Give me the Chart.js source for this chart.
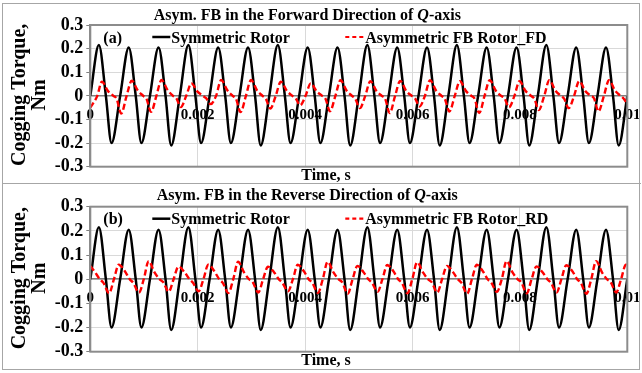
<!DOCTYPE html>
<html>
<head>
<meta charset="utf-8">
<script src="https://cdn.jsdelivr.net/npm/chart.js@4.4.1/dist/chart.umd.min.js"></script>
<style>
  html, body { margin: 0; padding: 0; background: #fff; }
  body { width: 642px; height: 373px; position: relative; overflow: hidden; }
  .frame { position: absolute; left: 2px; top: 3px; width: 636px; height: 365px; border: 1.5px solid #a6a6a6; }
  .split { position: absolute; left: 2px; top: 182.5px; width: 639px; height: 0; border-top: 1.5px solid #a6a6a6; }
  canvas { position: absolute; }
  #chartA { left: 4px; top: 5px; }
  #chartB { left: 4px; top: 185px; }
</style>
</head>
<body>
<div class="frame"></div>
<div class="split"></div>
<canvas id="chartA" width="635" height="177"></canvas>
<canvas id="chartB" width="635" height="183"></canvas>
<script>
// time in ms, torque in Nm
const symTimeMs = [
  0, 0.160, 0.290, 0.395,  0.556, 0.716, 0.846, 0.951,  1.111, 1.271, 1.401, 1.506,
  1.667, 1.827, 1.957, 2.062,  2.222, 2.382, 2.512, 2.617,  2.778, 2.938, 3.068, 3.173,
  3.333, 3.493, 3.623, 3.728,  3.889, 4.049, 4.179, 4.284,  4.444, 4.604, 4.734, 4.839,
  5.000, 5.160, 5.290, 5.395,  5.556, 5.716, 5.846, 5.951,  6.111, 6.271, 6.401, 6.506,
  6.667, 6.827, 6.957, 7.062,  7.222, 7.382, 7.512, 7.617,  7.778, 7.938, 8.068, 8.173,
  8.333, 8.493, 8.623, 8.728,  8.889, 9.049, 9.179, 9.284,  9.444, 9.604, 9.734, 9.839,
  10.000
];
const symTorque = [
  0, 0.215, 0, -0.200,  0, 0.205, 0, -0.200,  0, 0.205, 0, -0.210,
  0, 0.215, 0, -0.200,  0, 0.205, 0, -0.200,  0, 0.205, 0, -0.210,
  0, 0.215, 0, -0.200,  0, 0.205, 0, -0.200,  0, 0.205, 0, -0.210,
  0, 0.215, 0, -0.200,  0, 0.205, 0, -0.200,  0, 0.205, 0, -0.210,
  0, 0.215, 0, -0.200,  0, 0.205, 0, -0.200,  0, 0.205, 0, -0.210,
  0, 0.215, 0, -0.200,  0, 0.205, 0, -0.200,  0, 0.205, 0, -0.210,
  0
];

const fdTimeMs = [
  0, 0.130, 0.215, 0.330, 0.430, 0.490,
  0.576, 0.676, 0.771, 0.886, 0.986, 1.046,
  1.131, 1.231, 1.326, 1.441, 1.541, 1.601,
  1.687, 1.787, 1.882, 1.997, 2.097, 2.157,
  2.242, 2.342, 2.437, 2.552, 2.652, 2.712,
  2.798, 2.898, 2.993, 3.108, 3.208, 3.268,
  3.353, 3.453, 3.548, 3.663, 3.763, 3.823,
  3.909, 4.009, 4.104, 4.219, 4.319, 4.379,
  4.464, 4.564, 4.659, 4.774, 4.874, 4.934,
  5.020, 5.120, 5.215, 5.330, 5.430, 5.490,
  5.576, 5.676, 5.771, 5.886, 5.986, 6.046,
  6.131, 6.231, 6.326, 6.441, 6.541, 6.601,
  6.687, 6.787, 6.882, 6.997, 7.097, 7.157,
  7.242, 7.342, 7.437, 7.552, 7.652, 7.712,
  7.798, 7.898, 7.993, 8.108, 8.208, 8.268,
  8.353, 8.453, 8.548, 8.663, 8.763, 8.823,
  8.909, 9.009, 9.104, 9.219, 9.319, 9.379,
  9.464, 9.564, 9.659, 9.774, 9.874, 9.934,
  10.000
];
const fdTorque = [
  -0.050, 0, 0.060, 0.020, 0, -0.012,
  -0.075, 0, 0.064, 0.022, 0, -0.012,
  -0.068, 0, 0.067, 0.024, 0, -0.010,
  -0.047, 0, 0.053, 0.018, 0, -0.010,
  -0.035, 0, 0.067, 0.024, 0, -0.012,
  -0.069, 0, 0.067, 0.022, 0, -0.012,
  -0.054, 0, 0.060, 0.020, 0, -0.010,
  -0.040, 0, 0.053, 0.018, 0, -0.012,
  -0.065, 0, 0.066, 0.022, 0, -0.012,
  -0.052, 0, 0.062, 0.020, 0, -0.012,
  -0.073, 0, 0.063, 0.020, 0, -0.010,
  -0.045, 0, 0.066, 0.022, 0, -0.012,
  -0.066, 0, 0.062, 0.020, 0, -0.012,
  -0.073, 0, 0.066, 0.022, 0, -0.010,
  -0.048, 0, 0.062, 0.020, 0, -0.012,
  -0.060, 0, 0.066, 0.022, 0, -0.012,
  -0.052, 0, 0.062, 0.020, 0, -0.010,
  -0.066, 0, 0.066, 0.022, 0, -0.012,
  -0.035
];

const rdTimeMs = [
  0,
  0.085, 0.178, 0.245, 0.350, 0.440, 0.530,
  0.641, 0.734, 0.801, 0.906, 0.996, 1.086,
  1.196, 1.289, 1.356, 1.461, 1.551, 1.641,
  1.752, 1.845, 1.912, 2.017, 2.107, 2.197,
  2.307, 2.400, 2.467, 2.572, 2.662, 2.752,
  2.863, 2.956, 3.023, 3.128, 3.218, 3.308,
  3.418, 3.511, 3.578, 3.683, 3.773, 3.863,
  3.974, 4.067, 4.134, 4.239, 4.329, 4.419,
  4.529, 4.622, 4.689, 4.794, 4.884, 4.974,
  5.085, 5.178, 5.245, 5.350, 5.440, 5.530,
  5.641, 5.734, 5.801, 5.906, 5.996, 6.086,
  6.196, 6.289, 6.356, 6.461, 6.551, 6.641,
  6.752, 6.845, 6.912, 7.017, 7.107, 7.197,
  7.307, 7.400, 7.467, 7.572, 7.662, 7.752,
  7.863, 7.956, 8.023, 8.128, 8.218, 8.308,
  8.418, 8.511, 8.578, 8.683, 8.773, 8.863,
  8.974, 9.067, 9.134, 9.239, 9.329, 9.419,
  9.529, 9.622, 9.689, 9.794, 9.884, 9.974,
  10.000
];
const rdTorque = [
  0.055,
  0.030, 0, -0.015, -0.058, 0, 0.060,
  0.034, 0, -0.015, -0.055, 0, 0.075,
  0.028, 0, -0.012, -0.052, 0, 0.052,
  0.030, 0, -0.015, -0.050, 0, 0.060,
  0.034, 0, -0.015, -0.057, 0, 0.072,
  0.028, 0, -0.012, -0.055, 0, 0.052,
  0.030, 0, -0.015, -0.050, 0, 0.060,
  0.034, 0, -0.015, -0.056, 0, 0.072,
  0.028, 0, -0.012, -0.060, 0, 0.055,
  0.030, 0, -0.015, -0.052, 0, 0.059,
  0.034, 0, -0.015, -0.058, 0, 0.070,
  0.028, 0, -0.012, -0.055, 0, 0.055,
  0.030, 0, -0.015, -0.060, 0, 0.060,
  0.034, 0, -0.015, -0.052, 0, 0.075,
  0.028, 0, -0.012, -0.058, 0, 0.053,
  0.030, 0, -0.015, -0.055, 0, 0.058,
  0.034, 0, -0.015, -0.060, 0, 0.075,
  0.028, 0, -0.012, -0.055, 0, 0.060,
  0.058
];

const xTickLabels = ['0', '0.002', '0.004', '0.006', '0.008', '0.01'];
const yTickLabels = ['-0.3', '-0.2', '-0.1', '0', '0.1', '0.2', '0.3'];

const serif = '"Liberation Serif", "Times New Roman", serif';

function toPoints(times, values) {
  return times.map((t, i) => ({ x: t / 1000, y: values[i] }));
}

function makeChart(canvasId, panel) {
  const ctx = document.getElementById(canvasId).getContext('2d');
  return new Chart(ctx, {
    type: 'line',
    data: {
      datasets: [
        {
          label: panel.redLabel,
          data: toPoints(panel.redTime, panel.redTorque),
          borderColor: '#ff0000',
          borderWidth: 2.4,
          borderDash: [6, 3],
          pointRadius: 0,
          cubicInterpolationMode: 'monotone',
          order: 0
        },
        {
          label: 'Symmetric Rotor',
          data: toPoints(symTimeMs, symTorque),
          borderColor: '#000000',
          borderWidth: 2.5,
          pointRadius: 0,
          cubicInterpolationMode: 'monotone',
          order: 1
        }
      ]
    },
    options: {
      responsive: false,
      animation: false,
      devicePixelRatio: 1,
      layout: { padding: panel.padding },
      plugins: {
        legend: { display: false },
        title: { display: false },
        tooltip: { enabled: false }
      },
      scales: {
        x: {
          type: 'linear',
          position: { y: 0 },
          min: 0,
          max: 0.01,
          ticks: {
            stepSize: 0.002,
            autoSkip: false,
            maxRotation: 0,
            padding: 10,
            color: '#000',
            font: { family: serif, size: 15, weight: 'bold' },
            callback: (value, index) => xTickLabels[index]
          },
          grid: { color: '#d9d9d9', lineWidth: 1, drawTicks: false },
          border: { display: true, color: '#7f7f7f', width: 1.5 },
          afterFit: (scale) => { scale.paddingLeft = 0; scale.paddingRight = 0; }
        },
        y: {
          min: -0.3,
          max: 0.3,
          ticks: {
            stepSize: 0.1,
            autoSkip: false,
            padding: 3,
            color: '#000',
            font: { family: serif, size: 18, weight: 'bold' },
            callback: (value, index) => yTickLabels[index]
          },
          grid: { color: '#d9d9d9', lineWidth: 1, tickLength: 4, tickColor: '#7f7f7f' },
          border: { display: true, color: '#8c8c8c', width: 2 },
          afterFit: (scale) => { scale.width = 86.3; scale.paddingTop = 0; scale.paddingBottom = 0; }
        }
      }
    },
    plugins: [{
      afterDraw: function(chart) {
        const c = chart.ctx;
        const a = chart.chartArea;
        c.save();

        // plot frame
        c.strokeStyle = '#8c8c8c';
        c.lineWidth = 2;
        c.strokeRect(a.left, a.top, a.right - a.left, a.bottom - a.top);

        c.fillStyle = '#000';
        c.textBaseline = 'alphabetic';

        // title with italic Q
        const bold = 'bold 16px ' + serif;
        const boldItalic = 'italic bold 16px ' + serif;
        const parts = [[panel.title, bold], ['Q', boldItalic], ['-axis', bold]];
        let total = 0;
        parts.forEach(p => { c.font = p[1]; total += c.measureText(p[0]).width; });
        let x = a.left + 217 - total / 2;
        c.textAlign = 'left';
        parts.forEach(p => {
          c.font = p[1];
          c.fillText(p[0], x, 15);
          x += c.measureText(p[0]).width;
        });

        // panel letter and legend
        const legendY = a.top + 17.5;
        c.font = bold;
        c.fillText(panel.letter, a.left + 13, legendY);

        c.beginPath();
        c.strokeStyle = '#000';
        c.lineWidth = 2.5;
        c.moveTo(a.left + 62, legendY - 5.5);
        c.lineTo(a.left + 80, legendY - 5.5);
        c.stroke();
        c.fillText('Symmetric Rotor', a.left + 81, legendY);

        c.beginPath();
        c.strokeStyle = '#ff0000';
        c.lineWidth = 2.2;
        c.setLineDash([4, 3]);
        c.moveTo(a.left + 255, legendY - 5.5);
        c.lineTo(a.left + 274, legendY - 5.5);
        c.stroke();
        c.setLineDash([]);
        c.fillText(panel.redLabel, a.left + 275, legendY);

        // x axis title
        c.textAlign = 'center';
        c.fillText('Time, s', a.left + 235.7, a.bottom + 13.5);

        // y axis title, two lines
        const midY = (a.top + a.bottom) / 2 - 1;
        c.font = 'bold 20px ' + serif;
        c.translate(21, midY);
        c.rotate(-Math.PI / 2);
        c.fillText('Cogging Torque,', 0, 0);
        c.fillText('Nm', 0, 20);
        c.restore();
      }
    }]
  });
}

makeChart('chartA', {
  letter: '(a)',
  title: 'Asym. FB in the Forward Direction of ',
  redLabel: 'Asymmetric FB Rotor_FD',
  redTime: fdTimeMs,
  redTorque: fdTorque,
  padding: { left: 0, top: 20, right: 11.7, bottom: 15.3 }
});

makeChart('chartB', {
  letter: '(b)',
  title: 'Asym. FB in the Reverse Direction of ',
  redLabel: 'Asymmetric FB Rotor_RD',
  redTime: rdTimeMs,
  redTorque: rdTorque,
  padding: { left: 0, top: 21.7, right: 11.7, bottom: 16.3 }
});
</script>
</body>
</html>
